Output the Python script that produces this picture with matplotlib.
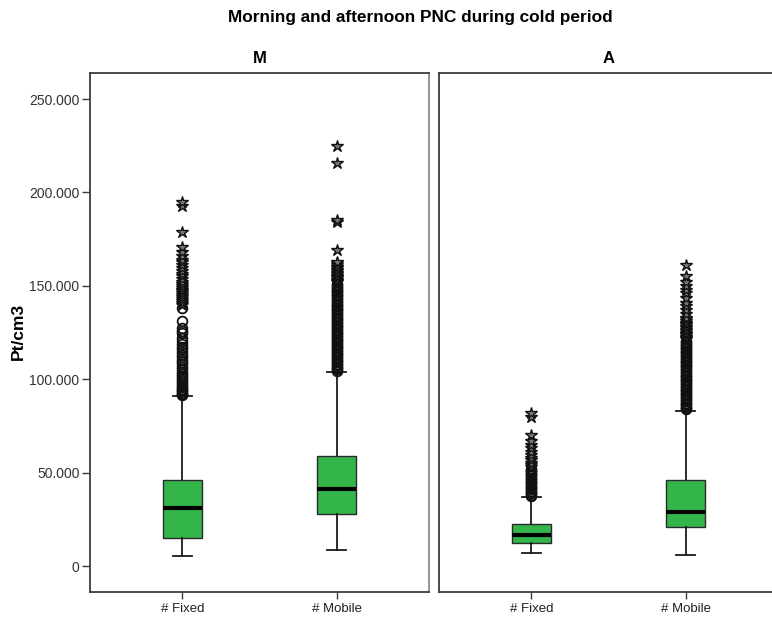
import matplotlib
matplotlib.use("Agg")
import matplotlib.pyplot as plt
from matplotlib.ticker import FuncFormatter
import numpy as np

plt.rcParams['font.family'] = ['Liberation Sans', 'DejaVu Sans']

#####################################################################################
# values in thousand Pt/cm3
panels = ["M", "A"]
categories = ["# Fixed", "# Mobile"]

# [whislo, q1, med, q3, whishi] per panel/category
stats_M = [[5.4, 15.0, 31.0, 46.0, 91.0],
           [8.5, 28.0, 41.0, 59.0, 104.0]]
stats_A = [[7.0, 12.3, 16.6, 22.5, 37.0],
           [6.0, 21.0, 29.0, 46.0, 83.0]]

# outliers (circles) and extremes (stars)
circ_M_fixed = [91.3, 92, 92.8, 93.5, 94.3, 95, 95.8, 96.5, 97.5, 98.5, 99.5, 100.5,
                102, 103, 104, 105.5, 106.5, 108, 109, 110.5, 112, 113, 114.5, 116,
                117.5, 119, 120.5, 122, 124.5, 126, 127.5, 131, 138]
star_M_fixed = [140, 141, 142, 143, 144, 145, 146, 147, 148, 149, 150, 151, 152, 153.5,
                155, 156.5, 158, 159.5, 161, 162.5, 164, 166, 168, 171, 179, 193, 195]
circ_M_mobile = [104.5, 105.3, 106, 106.8, 107.5, 108.3, 109, 109.8, 110.5, 111.3, 112,
                 112.8, 113.5, 114.3, 115, 115.8, 116.5, 117.3, 118, 118.8, 119.5, 120.3,
                 121, 121.8, 122.5, 123.3, 124, 124.8, 125.5, 126.3, 127, 127.8, 128.5,
                 129.3, 130, 130.8, 131.5, 132.3, 133, 133.8, 134.5, 135.3, 136, 136.8,
                 137.5, 138.3, 139, 139.8, 140.5, 141.3, 142, 142.8, 143.5, 144.3, 145,
                 145.8, 146.5, 147.3, 148, 148.8, 149.5, 150.3, 151]
star_M_mobile = [151.8, 152.5, 153.3, 154, 154.8, 155.5, 156.3, 157, 157.8, 158.5, 159.3,
                 160, 161, 162, 163, 169, 184, 185, 216, 225]
circ_A_fixed = [37.5, 38.2, 38.9, 39.6, 40.3, 41, 41.7, 42.4, 43.1, 43.8, 44.5, 45.2,
                45.9, 46.6, 47.3, 48, 48.7, 49.4, 50.1, 50.8, 51.5, 52.2]
star_A_fixed = [53, 54, 55, 56.5, 58, 59.5, 61, 63, 65, 67, 70, 80, 82]
circ_A_mobile = [83.8, 84.5, 85.3, 86, 86.8, 87.5, 88.3, 89, 89.8, 90.5, 91.3, 92, 92.8,
                 93.5, 94.3, 95, 95.8, 96.5, 97.3, 98, 98.8, 99.5, 100.3, 101, 101.8,
                 102.5, 103.3, 104, 104.8, 105.5, 106.3, 107, 107.8, 108.5, 109.3, 110,
                 110.8, 111.5, 112.3, 113, 113.8, 114.5, 115.3, 116, 116.8, 117.5, 118.3,
                 119, 119.8, 120.5]
star_A_mobile = [121.3, 122, 122.8, 123.5, 124.3, 125, 125.8, 126.5, 127.3, 128, 128.8,
                 129.5, 130.3, 131, 132, 133, 135, 137, 139, 141, 143.5, 146, 148, 150,
                 152, 155, 161]

#####################################################################################
box_color = '#33b54a'
frame_color = '#3c3c3c'

fig = plt.figure(figsize=(7.72, 6.19), dpi=100)
ax1 = fig.add_axes([90/772, 1-592/619, 339/772, (592-72.7)/619])
ax2 = fig.add_axes([439/772, 1-592/619, 339/772, (592-72.7)/619])

all_stats = [stats_M, stats_A]
all_circ = [[circ_M_fixed, circ_M_mobile], [circ_A_fixed, circ_A_mobile]]
all_star = [[star_M_fixed, star_M_mobile], [star_A_fixed, star_A_mobile]]

for ax, name, stats, circs, stars in zip([ax1, ax2], panels, all_stats, all_circ, all_star):
    bxp_stats = []
    for lab, s in zip(categories, stats):
        bxp_stats.append(dict(label=lab, whislo=s[0]*1000, q1=s[1]*1000, med=s[2]*1000,
                              q3=s[3]*1000, whishi=s[4]*1000, fliers=[]))
    ax.bxp(bxp_stats, positions=[1, 2], widths=0.253, capwidths=0.125,
           showfliers=False, patch_artist=True,
           boxprops=dict(facecolor=box_color, edgecolor='#2a2a2a', linewidth=1.0),
           medianprops=dict(color='black', linewidth=3.0),
           whiskerprops=dict(color='#1a1a1a', linewidth=1.3),
           capprops=dict(color='#1a1a1a', linewidth=1.3))
    for pos, c, st in zip([1, 2], circs, stars):
        ax.plot([pos]*len(c), np.array(c)*1000, linestyle='none', marker='o',
                markersize=7, markerfacecolor='none', markeredgecolor='#111111',
                markeredgewidth=1.3)
        ax.plot([pos]*len(st), np.array(st)*1000, linestyle='none', marker='*',
                markersize=9, markerfacecolor='#777777', markeredgecolor='#111111',
                markeredgewidth=1.0)
    ax.set_xlim(0.4, 2.6)
    ax.set_ylim(-13900, 264100)
    ax.set_title(name, fontsize=12, fontweight='bold', pad=7)
    for sp in ax.spines.values():
        sp.set_color(frame_color)
        sp.set_linewidth(1.3)
    ax.tick_params(axis='x', length=5, width=1, color=frame_color, labelsize=9.5,
                   labelcolor='#222222', pad=3)
    ax.set_xticks([1, 2])
    ax.set_xticklabels(categories)

ax1.set_yticks([0, 50000, 100000, 150000, 200000, 250000])
ax1.yaxis.set_major_formatter(FuncFormatter(
    lambda v, p: "0" if v == 0 else "{:,.0f}".format(v).replace(",", ".")))
ax1.tick_params(axis='y', length=6, width=1, color=frame_color, labelsize=10,
                labelcolor='#333333', pad=1.5)
ax1.spines['right'].set_color('#8a8a8a')
ax2.set_yticks([])
ax2.spines['right'].set_visible(False)

fig.text(0.024, 0.4645, "Pt/cm3", rotation=90, fontsize=12.5, fontweight='bold',
         ha='center', va='center')
fig.text(0.544, 0.971, "Morning and afternoon PNC during cold period", fontsize=12.4,
         fontweight='bold', ha='center', va='center')

fig.savefig("out.png", dpi=100)
